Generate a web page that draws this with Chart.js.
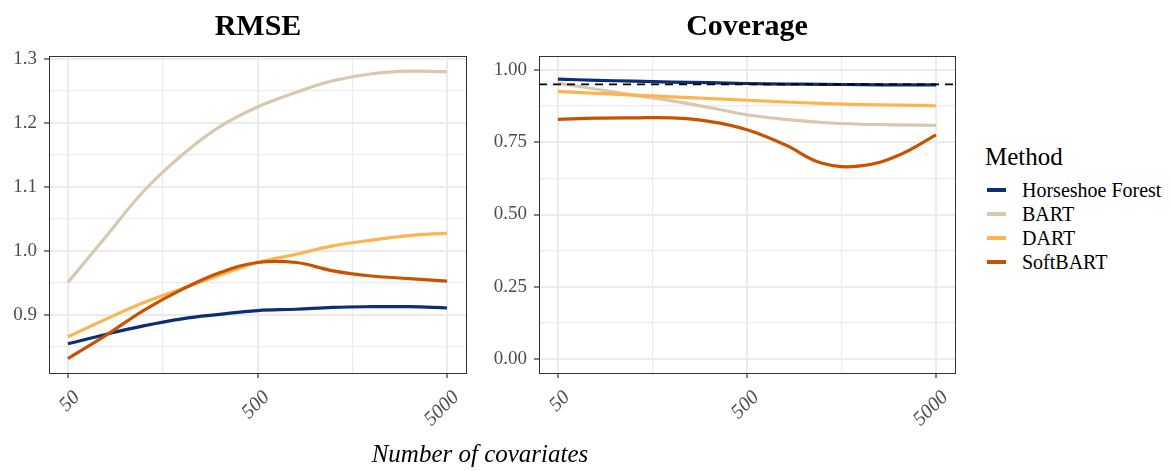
<!DOCTYPE html>
<html>
<head>
<meta charset="utf-8">
<script src="https://cdn.jsdelivr.net/npm/chart.js@4.4.1/dist/chart.umd.min.js"></script>
<style>
  body { margin: 0; background: #fff; font-family: "Liberation Serif", "Times New Roman", serif; }
  #stage { position: relative; width: 1171px; height: 471px; overflow: hidden; }
  .box { position: absolute; top: 0; }
  .panel-title { position: absolute; top: 8px; font-weight: bold; font-size: 30px; transform: translateX(-50%); white-space: nowrap; }
  #xtitle { position: absolute; left: 480px; top: 440px; font-style: italic; font-size: 25px; transform: translateX(-50%); white-space: nowrap; }
  #legend { position: absolute; left: 985px; top: 143px; }
  #legend .ttl { font-size: 25px; margin-bottom: 7px; }
  #legend .row { display: flex; align-items: center; height: 24px; font-size: 20px; }
  #legend .key { width: 19px; height: 3.5px; margin: 0 16px 0 2px; }
</style>
</head>
<body>
<div id="stage">
  <div class="box" style="left:0;width:480px;height:471px"><canvas id="rmse" width="480" height="471"></canvas></div>
  <div class="box" style="left:480px;width:490px;height:471px"><canvas id="cov" width="490" height="471"></canvas></div>
  <div class="panel-title" style="left:258px">RMSE</div>
  <div class="panel-title" style="left:747px">Coverage</div>
  <div id="xtitle">Number of covariates</div>
  <div id="legend"></div>
</div>
<script>
// sample points along the smoothed curves (number of covariates)
const covariates = [50, 80, 125, 200, 315, 500, 800, 1250, 2000, 3150, 5000];
const methods = ['Horseshoe Forest', 'BART', 'DART', 'SoftBART'];
const methodColors = ['#0b2f75', '#d9c8b0', '#fdb44e', '#c85200'];

const rmseHorseshoe = [0.855, 0.870, 0.883, 0.894, 0.901, 0.907, 0.909, 0.912, 0.913, 0.913, 0.911];
const rmseBART      = [0.951, 1.024, 1.093, 1.150, 1.194, 1.225, 1.248, 1.266, 1.277, 1.281, 1.280];
const rmseDART      = [0.866, 0.894, 0.919, 0.941, 0.962, 0.982, 0.995, 1.008, 1.017, 1.024, 1.028];
const rmseSoftBART  = [0.832, 0.869, 0.907, 0.940, 0.966, 0.982, 0.982, 0.969, 0.961, 0.957, 0.953];

const covHorseshoe = [0.968, 0.964, 0.961, 0.958, 0.956, 0.953, 0.951, 0.950, 0.949, 0.948, 0.948];
const covBART      = [0.954, 0.933, 0.913, 0.893, 0.870, 0.845, 0.829, 0.818, 0.812, 0.810, 0.808];
const covDART      = [0.926, 0.919, 0.913, 0.907, 0.901, 0.895, 0.889, 0.884, 0.880, 0.878, 0.876];
const covSoftBART  = [0.829, 0.833, 0.834, 0.834, 0.822, 0.793, 0.740, 0.677, 0.668, 0.704, 0.775];
const nominalCoverage = 0.95;

const xMajor = [50, 500, 5000];
const xMinor = [158.1, 1581];
const rmseMajor = [0.9, 1.0, 1.1, 1.2, 1.3];
const rmseMinor = [0.85, 0.95, 1.05, 1.15, 1.25];
const covMajor = [0, 0.25, 0.5, 0.75, 1.0];
const covMinor = [0.125, 0.375, 0.625, 0.875];

const SERIF = '"Liberation Serif", "Times New Roman", serif';
const GRID = '#ebebeb';
const xMin = 50 / Math.pow(10, 0.1);
const xMax = 5000 * Math.pow(10, 0.1);

function tickList(major, minor) {
  return [...major, ...minor].sort((a, b) => a - b).map(v => ({ value: v }));
}
const isMajor = (list, v) => list.some(m => Math.abs(m - v) < 1e-9);

const panelBorder = {
  id: 'panelBorder',
  afterDraw(chart) {
    const { ctx, chartArea: a } = chart;
    ctx.save();
    ctx.strokeStyle = '#333333';
    ctx.lineWidth = 1;
    ctx.strokeRect(Math.round(a.left) + 0.5, Math.round(a.top) + 0.5,
      Math.round(a.right - a.left), Math.round(a.bottom - a.top));
    ctx.restore();
  },
};

function makeChart(id, series, yMajor, yMinor, yMin, yMax, decimals, yWidth, padRight, refLine) {
  const datasets = series.map((vals, i) => ({
    label: methods[i],
    data: covariates.map((n, j) => ({ x: n, y: vals[j] })),
    borderColor: methodColors[i],
    borderWidth: 3.2,
    pointRadius: 0,
    tension: 0.4,
    order: 4 - i,
  }));
  if (refLine !== undefined) {
    datasets.push({
      label: 'nominal',
      data: [{ x: xMin, y: refLine }, { x: xMax, y: refLine }],
      borderColor: '#000000',
      borderWidth: 1.6,
      borderDash: [8, 6],
      pointRadius: 0,
      order: -1,
    });
  }
  return new Chart(document.getElementById(id), {
    type: 'line',
    data: { datasets },
    plugins: [panelBorder],
    options: {
      responsive: false,
      animation: false,
      layout: { padding: { top: 56, left: 0, right: padRight, bottom: 0 } },
      plugins: { legend: { display: false }, tooltip: { enabled: false }, title: { display: false } },
      scales: {
        x: {
          type: 'logarithmic',
          min: xMin,
          max: xMax,
          afterBuildTicks: s => { s.ticks = tickList(xMajor, xMinor); },
          afterFit: s => { s.height = 98; },
          border: { display: false },
          grid: {
            color: GRID,
            lineWidth: c => (c.tick && isMajor(xMajor, c.tick.value)) ? 2 : 1.2,
            tickColor: c => (c.tick && isMajor(xMajor, c.tick.value)) ? '#333333' : 'rgba(0,0,0,0)',
            tickLength: 5,
            tickWidth: 1.2,
          },
          ticks: {
            autoSkip: false,
            minRotation: 45,
            maxRotation: 45,
            padding: 8,
            labelOffset: 9,
            color: '#4d4d4d',
            font: { family: SERIF, size: 20, style: 'italic' },
            callback: v => isMajor(xMajor, v) ? String(v) : '',
          },
        },
        y: {
          min: yMin,
          max: yMax,
          afterBuildTicks: s => { s.ticks = tickList(yMajor, yMinor); },
          afterFit: s => { s.width = yWidth; },
          border: { display: false },
          grid: {
            color: GRID,
            lineWidth: c => (c.tick && isMajor(yMajor, c.tick.value)) ? 2 : 1.2,
            tickColor: c => (c.tick && isMajor(yMajor, c.tick.value)) ? '#333333' : 'rgba(0,0,0,0)',
            tickLength: 5,
            tickWidth: 1.2,
          },
          ticks: {
            autoSkip: false,
            padding: 7,
            color: '#4d4d4d',
            font: { family: SERIF, size: 19 },
            callback: v => isMajor(yMajor, v) ? v.toFixed(decimals) : '',
          },
        },
      },
    },
  });
}

makeChart('rmse', [rmseHorseshoe, rmseBART, rmseDART, rmseSoftBART],
  rmseMajor, rmseMinor, 0.8094, 1.3047, 1, 49, 14);
makeChart('cov', [covHorseshoe, covBART, covDART, covSoftBART],
  covMajor, covMinor, -0.048, 1.048, 2, 59, 15, nominalCoverage);

// legend
const legend = document.getElementById('legend');
legend.innerHTML = '<div class="ttl">Method</div>' + methods.map((m, i) =>
  `<div class="row"><span class="key" style="background:${methodColors[i]}"></span>${m}</div>`
).join('');
</script>
</body>
</html>
